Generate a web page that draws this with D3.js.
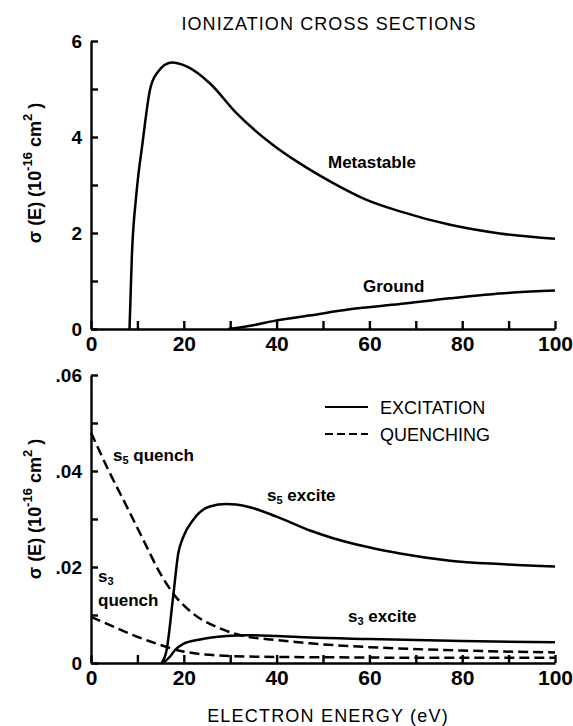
<!DOCTYPE html>
<html>
<head>
<meta charset="utf-8">
<script src="https://cdn.jsdelivr.net/npm/d3@7"></script>
<style>
  body { margin: 0; background: #fff; }
  text { font-family: "Liberation Sans", Arial, sans-serif; fill: #000; }
</style>
</head>
<body>
<svg id="chart" width="573" height="726"></svg>
<script>
// top panel: ionization cross sections (10^-16 cm^2) vs electron energy (eV)
var metastableE = [8.3, 8.8, 9.8, 11.1, 12.7, 14.2, 17.4, 20.6, 25.6, 31.4, 39.3, 45, 52.2, 59.4, 66.6, 77.4, 88.1, 100];
var metastableS = [0, 1.5, 2.83, 3.87, 4.98, 5.33, 5.55, 5.47, 5.12, 4.49, 3.83, 3.45, 3.04, 2.69, 2.45, 2.17, 1.99, 1.88];

var groundE = [29.6, 35, 40, 47, 55.8, 66.6, 77.4, 91, 100];
var groundS = [0, 0.08, 0.18, 0.28, 0.41, 0.52, 0.64, 0.76, 0.8];

// bottom panel: excitation / quenching cross sections
var s5ExciteE = [15.2, 16.3, 17.7, 18.8, 19.9, 22, 25.6, 29.2, 33.6, 40, 47.2, 52.2, 59.4, 66.6, 77.4, 88.1, 100];
var s5ExciteS = [0, 0.0027, 0.0138, 0.0228, 0.0263, 0.0298, 0.0326, 0.0331, 0.0326, 0.0305, 0.0276, 0.026, 0.0242, 0.0228, 0.0213, 0.0206, 0.0201];

var s3ExciteE = [15.5, 17, 18.1, 19.9, 23.5, 29.2, 33.6, 40, 47.2, 60, 80, 100];
var s3ExciteS = [0, 0.0013, 0.0027, 0.004, 0.0049, 0.0056, 0.0058, 0.0056, 0.0053, 0.005, 0.0046, 0.0043];

var s5QuenchE = [0, 4.1, 7.7, 11.3, 14.9, 17.7, 22, 27.8, 33.6, 40, 47.2, 60, 80, 100];
var s5QuenchS = [0.048, 0.0395, 0.0326, 0.0256, 0.0187, 0.0145, 0.0103, 0.0072, 0.0055, 0.0048, 0.0041, 0.0033, 0.0026, 0.0022];

var s3QuenchE = [0, 4.1, 9.1, 14.2, 18.5, 25.6, 36.4, 50, 70, 100];
var s3QuenchS = [0.0096, 0.0079, 0.0058, 0.004, 0.0027, 0.0017, 0.0013, 0.0012, 0.0011, 0.0011];

var xTicks = [0, 10, 20, 30, 40, 50, 60, 70, 80, 90, 100];
var topYTicks = [0, 1, 2, 3, 4, 5, 6];
var botYTicks = [0, 0.01, 0.02, 0.03, 0.04, 0.05, 0.06];

var svg = d3.select('#chart');

var x = d3.scaleLinear().domain([0, 100]).range([91, 555]),
    yTop = d3.scaleLinear().domain([0, 6]).range([329, 41]),
    yBot = d3.scaleLinear().domain([0, 0.06]).range([663, 375]);

var pairs = function(es, ss) {
  return es.map(function(e, i) { return [e, ss[i]]; });
};

var drawAxes = function(y, yTicks, yFmt) {
  var gx = svg.append('g')
    .attr('transform', 'translate(0,' + y.range()[0] + ')')
    .call(d3.axisBottom(x)
      .tickValues(xTicks)
      .tickSize(-8)
      .tickSizeOuter(0)
      .tickPadding(7)
      .tickFormat(function(d) { return d % 20 === 0 ? d : ''; }));

  var gy = svg.append('g')
    .attr('transform', 'translate(' + x.range()[0] + ',0)')
    .call(d3.axisLeft(y)
      .tickValues(yTicks)
      .tickSize(-7)
      .tickSizeOuter(0)
      .tickPadding(9)
      .tickFormat(yFmt));

  [gx, gy].forEach(function(g) {
    g.selectAll('path, line').attr('stroke', '#000').attr('stroke-width', 2.4);
    g.selectAll('text')
      .style('font-size', '21px')
      .style('font-weight', 'bold')
      .attr('fill', '#000');
  });
  gy.selectAll('text').style('font-size', '19px');
};

drawAxes(yTop, topYTicks, function(d) { return d % 2 === 0 ? d : ''; });
drawAxes(yBot, botYTicks, function(d) {
  if (d === 0) return '0';
  var k = Math.round(d * 100);
  return k % 2 === 0 ? '.0' + k : '';
});

var drawCurve = function(data, y, dashed) {
  var line = d3.line()
    .x(function(d) { return x(d[0]); })
    .y(function(d) { return y(d[1]); })
    .curve(d3.curveMonotoneX);
  svg.append('path')
    .datum(data)
    .attr('d', line)
    .attr('fill', 'none')
    .attr('stroke', '#000')
    .attr('stroke-width', 2.5)
    .attr('stroke-dasharray', dashed ? '10,5' : null);
};

drawCurve(pairs(metastableE, metastableS), yTop, false);
drawCurve(pairs(groundE, groundS), yTop, false);
drawCurve(pairs(s5ExciteE, s5ExciteS), yBot, false);
drawCurve(pairs(s3ExciteE, s3ExciteS), yBot, false);
drawCurve(pairs(s5QuenchE, s5QuenchS), yBot, true);
drawCurve(pairs(s3QuenchE, s3QuenchS), yBot, true);

// title and axis labels
svg.append('text')
  .attr('x', 329).attr('y', 30)
  .attr('text-anchor', 'middle')
  .style('font-size', '18px')
  .style('letter-spacing', '1.1px')
  .text('IONIZATION CROSS SECTIONS');

svg.append('text')
  .attr('x', 328).attr('y', 722)
  .attr('text-anchor', 'middle')
  .style('font-size', '18px')
  .style('letter-spacing', '1.2px')
  .text('ELECTRON ENERGY (eV)');

var yTitle = function(cy) {
  var t = svg.append('text')
    .attr('transform', 'translate(41,' + cy + ') rotate(-90)')
    .attr('text-anchor', 'middle')
    .style('font-size', '18px')
    .style('font-weight', 'bold');
  t.append('tspan').text('\u03c3 (E) (10');
  t.append('tspan').attr('dy', -9).style('font-size', '13px').text('-16');
  t.append('tspan').attr('dy', 9).text(' cm');
  t.append('tspan').attr('dy', -9).style('font-size', '13px').text('2');
  t.append('tspan').attr('dy', 9).text(' )');
};
yTitle(173);
yTitle(509);

// curve labels
var label = function(px, py, main, sub, rest) {
  var t = svg.append('text')
    .attr('x', px).attr('y', py)
    .style('font-size', '17px')
    .style('font-weight', 'bold');
  t.append('tspan').text(main);
  if (sub) {
    t.append('tspan').attr('dy', 3).style('font-size', '11px').text(sub);
    t.append('tspan').attr('dy', -3).text(rest);
  }
  return t;
};

label(328, 168, 'Metastable');
label(363, 292, 'Ground');
label(113, 461, 's', '5', ' quench');
label(267, 501, 's', '5', ' excite');
label(348, 622, 's', '3', ' excite');
label(98, 582, 's', '3', '');
label(98, 606, 'quench');

// legend
var legend = [
  { name: 'EXCITATION', y: 407, dashed: false },
  { name: 'QUENCHING', y: 434, dashed: true }
];
var lg = svg.append('g');
lg.selectAll('line')
  .data(legend)
  .enter()
    .append('line')
    .attr('x1', 325).attr('x2', 368)
    .attr('y1', function(d) { return d.y; })
    .attr('y2', function(d) { return d.y; })
    .attr('stroke', '#000')
    .attr('stroke-width', 2)
    .attr('stroke-dasharray', function(d) { return d.dashed ? '8,4' : null; });
lg.selectAll('text')
  .data(legend)
  .enter()
    .append('text')
    .attr('x', 380)
    .attr('y', function(d) { return d.y + 7; })
    .style('font-size', '18px')
    .text(function(d) { return d.name; });
</script>
</body>
</html>
